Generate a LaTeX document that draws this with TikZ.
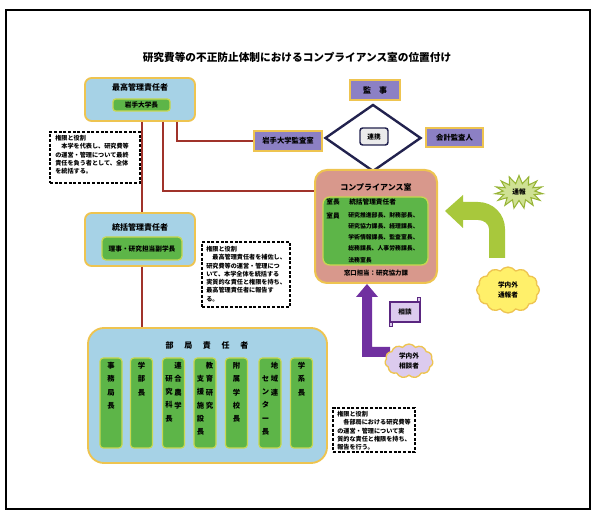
\documentclass[tikz,border=0pt]{standalone}
\usepackage{fontspec}
\setmainfont{Noto Sans CJK JP}
\usetikzlibrary{shapes.geometric,shapes.symbols}
\definecolor{skyb}{HTML}{A6D2E6}
\definecolor{gold}{HTML}{EEC450}
\definecolor{mgreen}{HTML}{5DB548}
\definecolor{ygreen}{HTML}{C8D850}
\definecolor{purp}{HTML}{8C80C4}
\definecolor{salmon}{HTML}{D8988C}
\definecolor{redl}{HTML}{A0322A}
\definecolor{navy}{HTML}{22224E}
\definecolor{violet}{HTML}{7030A0}
\definecolor{lilac}{HTML}{DCCBEE}
\definecolor{lgreen}{HTML}{A8C83C}
\definecolor{lyellow}{HTML}{FFF06A}
\newcommand\myfs[2]{\fontsize{#1}{#2}\selectfont\bfseries}
\tikzset{
  bluebox/.style={draw=gold, line width=1.4pt, fill=skyb, rounded corners=5pt, inner sep=0pt},
  greenbox/.style={draw=ygreen, line width=1pt, fill=mgreen, rounded corners=2pt, inner sep=0pt},
  colbox/.style={draw=ygreen, line width=0.9pt, fill=mgreen, rounded corners=2.5pt, inner sep=0pt, minimum width=16.5pt, minimum height=67.5pt},
  purpbox/.style={draw=gold, line width=1.3pt, fill=purp, inner sep=0pt},
  compbox/.style={draw=gold, line width=1.5pt, fill=salmon, rounded corners=9pt, inner sep=0pt},
  dashbox/.style={draw=black, line width=1.1pt, dash pattern=on 2.2pt off 1.3pt, fill=white, inner sep=0pt},
  redline/.style={draw=redl, line width=1.3pt},
  ttl/.style={font=\myfs{6}{7}, inner sep=0pt},
  sml/.style={font=\myfs{5}{6}, inner sep=0pt},
  tiny/.style={font=\myfs{4.6}{6.2}, inner sep=0pt, align=left},
  vt/.style={font=\myfs{5.5}{10}, inner sep=0pt, align=center, anchor=north},
}
\begin{document}
\begin{tikzpicture}[x=0.75pt,y=-0.75pt]
\useasboundingbox (0,0) rectangle (597,516);
\draw[line width=1pt] (6,10) rectangle (590,509);

% title
\node[font=\myfs{8}{9}, inner sep=0pt] (title) at (297,57) {研究費等の不正防止体制におけるコンプライアンス室の位置付け};

% boxes left column
\node[bluebox, minimum width=82.5pt, minimum height=32.25pt] (boxA) at (140,99.5) {};
\node[ttl] (boxAt) at (140,87) {最高管理責任者};
\node[greenbox, minimum width=42.75pt, minimum height=9pt] (boxAi) at (141.5,105) {};
\node[sml] (boxAit) at (boxAi) {岩手大学長};

\node[bluebox, minimum width=82.5pt, minimum height=39.75pt] (boxB) at (140,239.5) {};
\node[ttl] (boxBt) at (140,227) {統括管理責任者};
\node[greenbox, rounded corners=3pt, minimum width=60pt, minimum height=17.25pt] (boxBi) at (142,248.5) {};
\node[sml] (boxBit) at (boxBi) {理事・研究担当副学長};

% red connectors
\coordinate (ja) at (177,141);
\coordinate (jc) at (163,191);
\coordinate (jm) at (142,0);
\draw[redline] (boxA.south -| jm) -- (boxB.north -| jm);

% dashed boxes
\node[dashbox, minimum width=67.5pt, minimum height=38.25pt] (d1) at (95,157.5) {};
\node[tiny, anchor=north west] (d1t) at (55,135) {権限と役割\\　本学を代表し、研究費等\\の運営・管理について最終\\責任を負う者として、全体\\を統括する。};

\node[dashbox, minimum width=66pt, minimum height=48.75pt] (d2) at (246,274.5) {};
\node[tiny, anchor=north west] (d2t) at (206,246) {権限と役割\\　最高管理責任者を補佐し、\\研究費等の運営・管理につ\\いて、本学全体を統括する\\実質的な責任と権限を持ち、\\最高管理責任者に報告す\\る。};

% bottom department box
\node[bluebox, rounded corners=12pt, minimum width=179.25pt, minimum height=101.25pt] (boxC) at (207.5,395.5) {};
\node[ttl] (boxCt) at (207,345) {部\hspace{8pt}局\hspace{8pt}責\hspace{8pt}任\hspace{8pt}者};
\node[colbox] (c1) at (111,403) {};
\node[colbox] (c2) at (141.5,403) {};
\node[colbox] (c3) at (173.5,403) {};
\node[colbox] (c4) at (205,403) {};
\node[colbox] (c5) at (236.5,403) {};
\node[colbox] (c6) at (270,403) {};
\node[colbox] (c7) at (301.5,403) {};
\node[vt] (c1t) at (111,362) {事\\務\\局\\長};
\node[vt] (c2t) at (141.5,362) {学\\部\\長};
\node[vt] (c3r) at (178,362) {連\\合\\農\\学};
\node[vt] (c3l) at (169,375) {研\\究\\科\\長};
\node[vt] (c4r) at (209.5,362) {教\\育\\研\\究};
\node[vt] (c4l) at (200.5,375) {支\\援\\施\\設\\長};
\node[vt] (c5t) at (236.5,362) {附\\属\\学\\校\\長};
\node[vt] (c6r) at (274.5,362) {地\\域\\連};
\node[vt] (c6l) at (265.5,375) {セ\\ン\\タ\\ー\\長};
\node[vt] (c7t) at (301.5,362) {学\\系\\長};

\draw[redline] (boxB.south -| jm) -- (boxC.north -| jm);

% audit & diamond
\node[draw=navy, line width=1.8pt, diamond, minimum width=72pt, minimum height=50.25pt, inner sep=0pt] (dia) at (373,138) {};
\node[purpbox, minimum width=51pt, minimum height=15pt] (audit) at (288,141) {};
\node[sml, font=\myfs{5.5}{6}] (auditt) at (audit) {岩手大学監査室};
\node[purpbox, minimum width=37.5pt, minimum height=15pt] (kanji) at (375,90) {};
\node[ttl] (kanjit) at (kanji) {監\hspace{6pt}事};
\node[purpbox, minimum width=42.75pt, minimum height=14.25pt] (kaikei) at (454.5,137.5) {};
\node[sml, font=\myfs{5.5}{6}] (kaikeit) at (kaikei) {会計監査人};
\node[draw=navy, line width=1.1pt, fill=black!8, rounded corners=2pt, minimum width=21pt, minimum height=12.75pt, inner sep=0pt] (renkei) at (374,136.5) {};
\node[sml] (renkeit) at (renkei) {連携};

% compliance room
\node[compbox, minimum width=91.5pt, minimum height=84.75pt] (comp) at (376,226.5) {};
\node[ttl] (compt) at (376,187) {コンプライアンス室};
\node[greenbox, rounded corners=5pt, minimum width=78.75pt, minimum height=51pt] (compi) at (375.5,231) {};
\node[sml] (cl1) at (333,202) {室長};
\node[sml, anchor=west] (cl1b) at (349,202) {統括管理責任者};
\node[sml] (cl2) at (333,216) {室員};
\node[tiny, font=\myfs{4.4}{8.3}, anchor=north west] (cl2b) at (348,212.5) {研究推進部長、財務部長、\\研究協力課長、経理課長、\\学術情報課長、監査室長、\\総務課長、人事労務課長、\\法務室長};
\node[sml, font=\myfs{4.8}{6}] (compb) at (376,273) {窓口担当：研究協力課};

\draw[redline] (boxA.south -| ja) |- (audit.west |- ja);
\draw[redline] (boxA.south -| jc) |- (comp.west |- jc);

% dashed box 3
\node[dashbox, minimum width=61.5pt, minimum height=33pt] (d3) at (374,430) {};
\node[tiny, anchor=north west] (d3t) at (337,411) {権限と役割\\　各部局における研究費等\\の運営・管理について実\\質的な責任と権限を持ち、\\報告を行う。};

% purple arrow
\fill[violet] (367,284) -- (378,297) -- (372,297) -- (372,347) -- (390,347) -- (390,357) -- (362,357) -- (362,297) -- (356,297) -- cycle;
\node[draw=violet!80!black, line width=0.9pt, fill=lilac, minimum width=22.5pt, minimum height=15pt, inner sep=0pt] (soudan) at (405,312) {};
\draw[violet!80!black, line width=0.7pt, fill=lilac] (soudan.north east) -- ++(0,-4) -- ++(-3,0) -- ++(0,4);
\draw[violet!80!black, line width=0.7pt, fill=lilac] (soudan.south west) -- ++(0,4) -- ++(3,0) -- ++(0,-4);
\node[sml] (soudant) at (soudan) {相談};
\node[cloud, cloud puffs=11, cloud puff arc=110, aspect=1.4, draw=gold, line width=1pt, fill=lilac, minimum width=36pt, minimum height=25.5pt, inner sep=0pt] (cloudP) at (409,361) {};
\node[sml, align=center, font=\myfs{5}{7}] (cloudPt) at (cloudP) {学内外\\相談者};

% green arrow
\fill[lgreen] (445,211) -- (463,195) -- (463,202) -- (478,202) .. controls (493,202) and (505,214) .. (505,229) -- (505,258) -- (489,258) -- (489,229) .. controls (489,224) and (484,220) .. (478,220) -- (463,220) -- (463,228) -- cycle;
\node[starburst, starburst points=15, starburst point height=6pt, random starburst=0, draw=lgreen!90!black, line width=0.8pt, fill=lgreen!55, minimum width=36pt, minimum height=24.75pt, inner sep=0pt] (tsuho) at (519,192) {};
\node[sml] (tsuhot) at (tsuho) {通報};
\node[cloud, cloud puffs=12, cloud puff arc=110, aspect=1.4, draw=gold, line width=1pt, fill=lyellow, minimum width=47pt, minimum height=34.5pt, inner sep=0pt] (cloudY) at (508,290) {};
\node[sml, align=center, font=\myfs{5}{7}] (cloudYt) at (cloudY) {学内外\\通報者};

\end{tikzpicture}
\end{document}
